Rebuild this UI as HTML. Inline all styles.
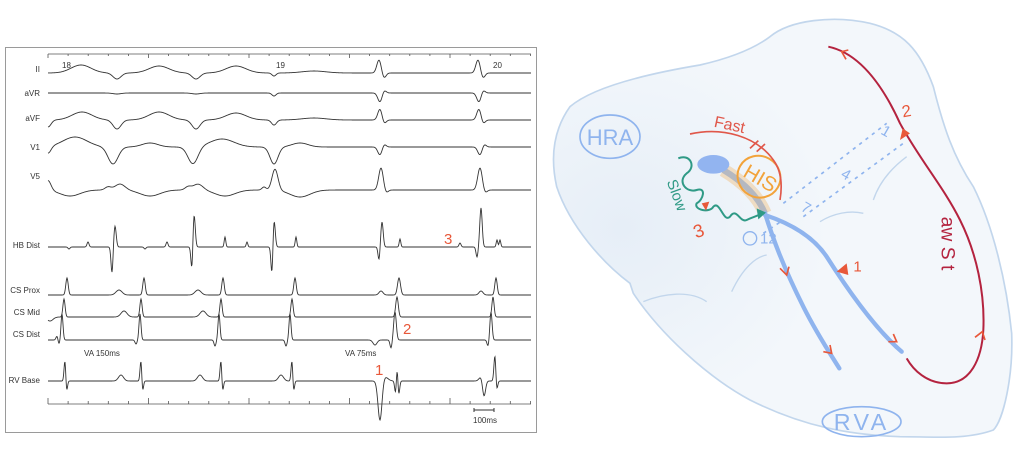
<!DOCTYPE html>
<html><head><meta charset="utf-8"><style>
html,body{margin:0;padding:0;background:#fff;}
body{width:1024px;height:471px;position:relative;overflow:hidden;font-family:"Liberation Sans",sans-serif;}
svg{position:absolute;left:0;top:0;}
</style></head><body>
<svg id="L" width="1024" height="471" viewBox="0 0 1024 471">
<rect x="5.5" y="47.5" width="531" height="385" fill="#fff" stroke="#9a9a9a" stroke-width="1"/>
<g id="axes" stroke="#555" stroke-width="0.8"></g>
<g font-size="8" fill="#333" text-anchor="end">
<text x="40" y="72">II</text><text x="40" y="96">aVR</text><text x="40" y="121">aVF</text>
<text x="40" y="150">V1</text><text x="40" y="179">V5</text><text x="40" y="248">HB Dist</text>
<text x="40" y="293">CS Prox</text><text x="40" y="315">CS Mid</text><text x="40" y="337">CS Dist</text>
<text x="40" y="383">RV Base</text>
</g>
<g font-size="8" fill="#333">
<text x="62" y="68">18</text><text x="276" y="68">19</text><text x="493" y="68">20</text>
<text x="84" y="356">VA 150ms</text><text x="345" y="356">VA 75ms</text>
<text x="473" y="423">100ms</text>
</g>
<path d="M474 408v4M474 410h20M494 408v4" stroke="#333" stroke-width="1" fill="none"/>
<g font-size="15" fill="#e8583a" font-family="'Liberation Sans',sans-serif">
<text x="444" y="244">3</text><text x="403" y="334">2</text><text x="375" y="375">1</text>
</g>
<g id="tr" fill="none" stroke="#333" stroke-width="0.9"></g>
</svg>

<svg width="474" height="471" viewBox="0 0 1422 1413" style="left:550px" preserveAspectRatio="none">
<defs>
<radialGradient id="g1" cx="0.15" cy="0.5" r="0.45"><stop offset="0" stop-color="#e6eef7"/><stop offset="1" stop-color="#f3f7fb"/></radialGradient>
</defs>
<path d="M660 110 C720 60 850 45 960 70 C1060 95 1110 150 1150 260 C1180 380 1210 470 1270 560 C1330 680 1370 850 1385 1000 C1390 1130 1360 1260 1330 1290 C1250 1320 1150 1310 1050 1310 C900 1305 760 1280 600 1200 C470 1130 330 1000 250 880 L240 850 C160 790 60 680 20 560 C0 470 10 390 60 320 C130 260 300 220 450 195 C560 170 620 140 660 110 Z" fill="url(#g1)" stroke="#c2d6ec" stroke-width="5"/>
<g fill="none" stroke="#c2d6ec" stroke-width="4">
<path d="M280 905 C340 880 420 870 470 905"/>
<path d="M545 875 C580 800 620 770 650 765"/>
<path d="M810 665 C850 640 900 630 940 640"/>
<path d="M970 600 C990 540 1030 500 1070 470"/>
</g>
<ellipse cx="180" cy="410" rx="90" ry="65" fill="none" stroke="#8fb4ee" stroke-width="5"/>
<text x="180" y="435" font-size="66" fill="#8fb4ee" text-anchor="middle" font-family="'Liberation Sans',sans-serif">HRA</text>
<ellipse cx="935" cy="1265" rx="118" ry="45" fill="none" stroke="#8fb4ee" stroke-width="5"/>
<text x="935" y="1290" font-size="70" fill="#8fb4ee" text-anchor="middle" font-family="'Liberation Sans',sans-serif" letter-spacing="10">RVA</text>
<g stroke="#8fb4ee" stroke-width="5" stroke-dasharray="10 14" fill="none">
<path d="M700 610 L1010 370"/><path d="M760 650 L1060 430"/><path d="M640 700 L700 660"/>
</g>
<text x="990" y="400" font-size="45" fill="#8fb4ee" transform="rotate(30 990 400)">1</text>
<text x="870" y="530" font-size="45" fill="#8fb4ee" transform="rotate(30 870 530)">4</text>
<text x="750" y="630" font-size="45" fill="#8fb4ee" transform="rotate(30 750 630)">7</text>
<circle cx="600" cy="715" r="20" fill="none" stroke="#8fb4ee" stroke-width="4"/>
<text x="630" y="730" font-size="45" fill="#8fb4ee">12</text>
<path d="M520 510 C570 540 620 580 645 640" stroke="#f0c48a" stroke-width="40" fill="none" opacity="0.5"/>
<path d="M520 510 C570 540 620 580 645 640" stroke="#b5b8c0" stroke-width="18" fill="none"/>
<ellipse cx="490" cy="493" rx="48" ry="28" fill="#92b4f0"/>
<g stroke="#8fb4ee" stroke-width="13" fill="none" stroke-linecap="round">
<path d="M645 640 C670 720 700 800 760 920 C800 1000 840 1060 868 1105"/>
<path d="M645 645 C720 670 790 710 830 770 C900 880 980 990 1055 1055"/>
</g>
<ellipse cx="627" cy="530" rx="65" ry="62" transform="rotate(30 627 530)" fill="none" stroke="#f2a33b" stroke-width="6"/>
<text x="628" y="555" font-size="62" fill="#f2a33b" text-anchor="middle" transform="rotate(30 628 540)">HIS</text>
<path d="M420 402 C520 380 620 410 670 480 C700 520 695 570 690 600" stroke="#e0574a" stroke-width="5" fill="none"/>
<path d="M600 445 L625 422 M620 455 L645 432" stroke="#e0574a" stroke-width="5"/>
<text x="490" y="380" font-size="48" fill="#e0574a" transform="rotate(12 490 380)">Fast</text>
<path d="M385 475 C420 460 440 500 410 520 C380 545 410 580 440 570 C470 560 460 600 440 610 C430 630 480 640 490 620 C510 600 520 670 540 650 C560 620 570 670 590 660 C610 650 620 650 640 638" stroke="#2f9a86" stroke-width="6" fill="none"/>
<path d="M620 625 L648 638 L625 658 Z" fill="#2f9a86"/>
<text x="350" y="545" font-size="45" fill="#2f9a86" transform="rotate(70 350 545)">Slow</text>
<path d="M455 610 L478 605 L468 632 Z" fill="#e8583a"/>
<text x="430" y="710" font-size="55" fill="#e8583a" transform="rotate(-20 450 690)">3</text>
<path d="M835 140 C930 160 1000 260 1050 370 C1110 480 1180 560 1230 660 C1280 760 1305 880 1300 990 C1295 1080 1260 1150 1190 1150 C1130 1150 1090 1110 1070 1075" stroke="#b4233f" stroke-width="6" fill="none"/>
<path d="M1050 420 L1080 400 L1058 385 Z" fill="#e8583a"/>
<text x="1055" y="350" font-size="50" fill="#e8583a" transform="rotate(-10 1070 330)">2</text>
<path d="M895 150 L875 155 L888 178" stroke="#e8583a" stroke-width="5" fill="none"/>
<path d="M1275 1012 L1297 995 L1305 1020" stroke="#e8583a" stroke-width="5" fill="none"/>
<text x="1175" y="650" font-size="58" fill="#b4233f" transform="rotate(90 1175 650)">aw S t</text>
<path d="M690 805 L710 825 L717 800" stroke="#e8583a" stroke-width="5" fill="none"/>
<path d="M820 1055 L845 1060 L840 1035" stroke="#e8583a" stroke-width="5" fill="none"/>
<path d="M1015 1025 L1040 1025 L1030 1002" stroke="#e8583a" stroke-width="5" fill="none"/>
<path d="M860 815 L890 790 L895 825 Z" fill="#e8583a"/>
<text x="910" y="815" font-size="45" fill="#e8583a">1</text>
</svg>

<script>
(function(){
var NS="http://www.w3.org/2000/svg";
var ax=document.getElementById('axes');
function line(x1,y1,x2,y2){var l=document.createElementNS(NS,'line');l.setAttribute('x1',x1);l.setAttribute('y1',y1);l.setAttribute('x2',x2);l.setAttribute('y2',y2);ax.appendChild(l);}
line(48,54,531,54);line(48,404,531,404);
for(var i=0;i<=24;i++){var x=48+i*20.1;var big=(i%5==0);line(x,54,x,big?58:56);line(x,404,x,big?398:401);}
var T=[
[73,[[81,-8,10],[117,6,4],[159,-7,10],[196,6,4],[236,-7,10],[274,3,2],[314,-2,12],[379,-13,2.2],[384,5,2],[478,-13,2.2],[483,5,2]]],
[93,[[117,1,4],[196,1,4],[274,3,2],[380,9,2.2],[384,-3,2],[479,9,2.2],[483,-3,2]]],
[120,[[82,-8,10],[117,9,4],[159,-8,10],[196,9,4],[236,-7,10],[274,5,2.5],[314,-2,12],[380,-11,2.2],[384,4,2],[479,-11,2.2],[483,4,2],[48,7,3]]],
[147,[[75,-10,12],[113,17,5],[150,-4,8],[222,-8,12],[193,17,5],[274,17,4],[300,-4,8],[380,8,2.2],[384,-3,2],[480,8,2.2],[484,-3,2],[48,7,3]]],
[190,[[48,-10,3],[70,6,10],[108,-3,3],[120,-6,5],[150,6,10],[188,-3,3],[198,-6,5],[225,6,10],[264,-3,2],[275,-21,3],[300,7,10],[381,-22,2.3],[480,-22,2.3],[386,3,2],[485,3,2]]],
[247,[[69,2,1],[88,-5,1],[112,26,1],[115,-21,1.2],[145,2,1],[167,-5,1],[192,26,1],[194,-34,1.2],[225,-10,0.8],[247,-5,0.8],[272,30,1],[274,-28,1.2],[296,-10,0.8],[379,13,1],[382,-25,1.2],[400,-8,0.8],[460,-4,1],[477,10,1],[481,-39,1.2],[497,-7,0.8],[500,-7,0.8]]],
[295,[[67,-17,1.2],[119,-5,3],[144,-17,1.2],[198,-5,3],[223,-17,1.2],[295,-17,1.2],[381,-4,2],[399,-17,1.5],[481,-4,2],[496,-17,1.2]]],
[317,[[64,-18,1.1],[124,-6,3],[141,-18,1.1],[203,-6,3],[221,-18,1.1],[292,-18,1.1],[397,-20,1.3],[493,-20,1.1],[50,4,3]]],
[340,[[57,-4,1],[59,4,1],[62,-26,1],[136,4,1],[140,-26,1],[215,6,1],[219,-26,1],[286,6,1],[290,-26,1],[375,5,2],[391,8,1],[395,-28,1.3],[488,6,1],[491,-28,1.1]]],
[381,[[65,-22,0.9],[66.5,12,0.9],[121,-6,2.5],[141,-22,0.9],[142.5,12,0.9],[200,-6,2.5],[221,-22,0.9],[222.5,12,0.9],[281,-6,2.5],[292,-22,0.9],[293.5,12,0.9],[380,40,2],[385,-4,3],[396,22,1],[397,-28,1],[398.5,18,1],[481,-4,2],[484,16,1.5],[495,-28,1],[496.5,12,1]]]
];
var tr=document.getElementById('tr');
T.forEach(function(t){var d='';for(var x=48;x<=531;x+=0.5){var y=t[0];t[1].forEach(function(f){var u=(x-f[0])/f[2];y+=f[1]*Math.exp(-u*u/2);});d+=(d?'L':'M')+x+' '+y.toFixed(2);}
var p=document.createElementNS(NS,'path');p.setAttribute('d',d);tr.appendChild(p);});
})();
</script>
</body></html>
